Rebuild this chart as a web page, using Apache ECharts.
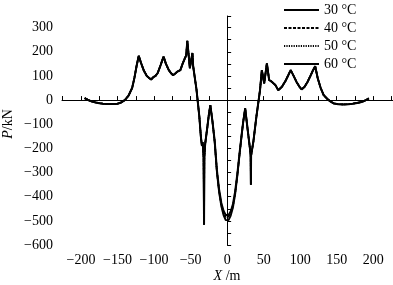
<!DOCTYPE html>
<html><head><meta charset="utf-8">
<script src="https://cdn.jsdelivr.net/npm/echarts/dist/echarts.min.js"></script>
<style>html,body{margin:0;padding:0;background:#fff}#c{width:393px;height:285px}</style>
</head><body><div id="c"></div><script>
const seriesNames = ['30 °C', '40 °C', '50 °C', '60 °C'];
const xs = [-195,-190,-185,-180,-175,-170,-165,-160,-155,-150,-145,-140,-135,-130,-127,-124,-121,-118,-114,-110,-107,-104,-101,-98,-95,-91,-87,-84,-80,-77,-74,-71,-68,-64,-61,-58,-56,-54.5,-51,-47.5,-46.5,-45.5,-42,-38,-36,-34.5,-33.5,-32.2,-31.6,-31.2,-30,-27,-25,-23,-20,-17,-14,-11,-8,-5,-2,0,2,5,8,11,14,17,20,22,24.7,28,31.5,32.2,32.5,32.8,33.8,36,40,45,47.5,50.7,54.4,57.5,61,66,70,75,80,84,87,91,95,99,102,106,110,114,117,120.5,124,128,132,137,141,146,152,159,166,172,178,184,190,194];
const p30 = [8,0,-6,-10,-13,-15,-16,-16,-16,-15,-10,0,18,50,90,140,183,155,122,100,92,85,95,100,112,145,180,152,125,112,103,110,118,124,150,172,185,245,132,195,140,135,45,-70,-150,-190,-175,-235,-516,-235,-180,-110,-60,-21,-90,-170,-290,-370,-425,-458,-476,-479,-476,-460,-430,-378,-305,-220,-140,-90,-34,-120,-207,-230,-351,-230,-234,-170,-70,41,124,69,152,83,76,62,41,55,80,105,124,100,75,55,44,55,75,100,120,140,90,50,21,5,-5,-14,-17,-18,-17,-15,-12,-8,0,7];
const p40 = [8,0,-6,-10,-13,-15,-16,-16,-16,-15,-10,0,18,50,90,140,183,155,122,100,92,85,95,100,112,145,180,152,125,112,103,110,118,124,150,172,185,245,132,195,140,135,45,-70,-150,-190,-175,-235,-516,-235,-180,-110,-60,-21,-90,-172,-293,-374,-430,-464,-483,-486,-483,-466,-435,-382,-308,-222,-140,-90,-34,-120,-207,-230,-351,-230,-234,-170,-70,41,124,69,152,83,76,62,41,55,80,105,124,100,75,55,44,55,75,100,120,140,90,50,21,5,-5,-14,-17,-18,-17,-15,-12,-8,0,7];
const p50 = [8,0,-6,-10,-13,-15,-16,-16,-16,-15,-10,0,18,50,90,140,183,155,122,100,92,85,95,100,112,145,180,152,125,112,103,110,118,124,150,172,185,245,132,195,140,135,45,-70,-150,-190,-175,-235,-516,-235,-180,-110,-60,-21,-90,-174,-296,-378,-435,-470,-490,-493,-490,-472,-440,-386,-311,-224,-141,-90,-34,-120,-207,-230,-351,-230,-234,-170,-70,41,124,69,152,83,76,62,41,55,80,105,124,100,75,55,44,55,75,100,120,140,90,50,21,5,-5,-14,-17,-18,-17,-15,-12,-8,0,7];
const p60 = [8,0,-6,-10,-13,-15,-16,-16,-16,-15,-10,0,18,50,90,140,183,155,122,100,92,85,95,100,112,145,180,152,125,112,103,110,118,124,150,172,185,245,132,195,140,135,45,-70,-150,-190,-175,-235,-516,-235,-180,-110,-60,-21,-90,-176,-299,-382,-440,-476,-497,-500,-497,-478,-445,-390,-314,-226,-142,-90,-34,-120,-207,-230,-351,-230,-234,-170,-70,41,124,69,152,83,76,62,41,55,80,105,124,100,75,55,44,55,75,100,120,140,90,50,21,5,-5,-14,-17,-18,-17,-15,-12,-8,0,7];

const FONT = 'Liberation Serif';
const pairs = arr => xs.map((x, i) => [x, arr[i]]);
const fmt = v => String(v).replace('-', '\u2212');
const styles = [
  {type: 'solid', width: 2},
  {type: [3, 1.5], width: 1.6},
  {type: [1.2, 1.2], width: 1.6},
  {type: 'solid', width: 1.8}
];
const datas = [p30, p40, p50, p60];

const chart = echarts.init(document.getElementById('c'));
chart.setOption({
  animation: false,
  grid: {left: 62, right: 0, top: 16, bottom: 40},
  legend: {
    orient: 'vertical', left: 278, top: -2,
    itemWidth: 35, itemHeight: 14, itemGap: 4,
    itemStyle: {opacity: 0},
    textStyle: {fontFamily: FONT, fontSize: 14, color: '#000'},
    data: seriesNames
  },
  xAxis: {
    type: 'value', min: -226, max: 227, splitNumber: 9,
    axisLine: {lineStyle: {color: '#000', width: 1}},
    axisTick: {inside: true, length: 4, lineStyle: {color: '#000'}},
    minorTick: {show: true, splitNumber: 2, length: 4, lineStyle: {color: '#000'}},
    splitLine: {show: false},
    axisLabel: {showMinLabel: false, showMaxLabel: false, margin: 8, color: '#000', fontFamily: FONT, fontSize: 14, formatter: fmt}
  },
  yAxis: {
    type: 'value', min: -600, max: 348, interval: 100,
    axisLine: {show: true, lineStyle: {color: '#000', width: 1}},
    axisTick: {show: true, inside: true, length: 4, lineStyle: {color: '#000'}},
    minorTick: {show: true, splitNumber: 2, length: 4, lineStyle: {color: '#000'}},
    splitLine: {show: false},
    axisLabel: {showMaxLabel: false, margin: 9, color: '#000', fontFamily: FONT, fontSize: 14, formatter: fmt}
  },
  graphic: [
    {type: 'text', x: 8, y: 124, rotation: Math.PI / 2,
     style: {text: '{i|P}/kN', fontFamily: FONT, fontSize: 14, fill: '#000', align: 'center', verticalAlign: 'middle',
             rich: {i: {fontStyle: 'italic', fontFamily: FONT, fontSize: 14}}}},
    {type: 'text', x: 227, y: 276,
     style: {text: '{i|X} /m', fontFamily: FONT, fontSize: 14, fill: '#000', align: 'center', verticalAlign: 'middle',
             rich: {i: {fontStyle: 'italic', fontFamily: FONT, fontSize: 14}}}}
  ],
  series: seriesNames.map((n, k) => ({
    name: n, type: 'line', symbol: 'none', data: pairs(datas[k]),
    lineStyle: Object.assign({color: '#000'}, styles[k]),
    itemStyle: {color: '#000'}
  }))
});
</script></body></html>
